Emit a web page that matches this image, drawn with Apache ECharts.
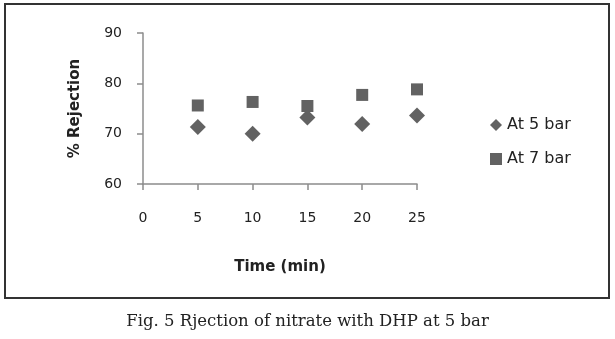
<!DOCTYPE html>
<html>
<head>
<meta charset="utf-8">
<script src="https://cdn.jsdelivr.net/npm/echarts@6/dist/echarts.min.js"></script>
<style>
html,body{margin:0;padding:0;background:#fff;}
#c{width:615px;height:339px;}
</style>
</head>
<body>
<div id="c"></div>
<script>
var timeMin = [5, 10, 15, 20, 25];
var at5bar = [71.3, 70.0, 73.2, 71.9, 73.6];
var at7bar = [75.6, 76.3, 75.5, 77.7, 78.8];
var xTicks = [0, 5, 10, 15, 20, 25];
var yTicks = [60, 70, 80, 90];

var chart = echarts.init(document.getElementById('c'), null, {renderer: 'canvas'});
var font = 'DejaVu Sans';
function pairs(xs, ys){ return xs.map(function(x,i){ return [x, ys[i]]; }); }

chart.setOption({
  animation: false,
  backgroundColor: '#fff',
  title: {
    text: 'Fig. 5 Rjection of nitrate with DHP at 5 bar',
    left: 'center',
    top: 308,
    textStyle: {fontFamily: 'DejaVu Serif', fontSize: 16.5, fontWeight: 'normal', color: '#222'}
  },
  graphic: [{
    type: 'rect',
    shape: {x: 5, y: 4, width: 604, height: 294},
    style: {fill: 'none', stroke: '#333', lineWidth: 2},
    silent: true
  }],
  grid: {left: 143, right: 198, top: 33, bottom: 155, containLabel: false},
  legend: {
    orient: 'vertical',
    left: 485,
    top: 112,
    itemGap: 18,
    itemWidth: 12,
    itemHeight: 12,
    textStyle: {fontFamily: font, fontSize: 16, color: '#222'},
    data: [{name: 'At 5 bar', icon: 'diamond'}, {name: 'At 7 bar', icon: 'rect'}]
  },
  xAxis: {
    type: 'value',
    min: xTicks[0],
    max: xTicks[xTicks.length - 1],
    interval: 5,
    name: 'Time (min)',
    nameLocation: 'middle',
    nameGap: 76,
    nameTextStyle: {fontFamily: font, fontSize: 15, fontWeight: 'bold', color: '#222'},
    axisLine: {show: true, lineStyle: {color: '#8c8c8c', width: 1.5}},
    axisTick: {show: true, length: 6, lineStyle: {color: '#8c8c8c', width: 1.5}},
    axisLabel: {margin: 27, fontFamily: font, fontSize: 14, color: '#222'},
    splitLine: {show: false}
  },
  yAxis: {
    type: 'value',
    min: yTicks[0],
    max: yTicks[yTicks.length - 1],
    interval: 10,
    name: '% Rejection',
    nameLocation: 'middle',
    nameGap: 60,
    nameTextStyle: {fontFamily: font, fontSize: 15, fontWeight: 'bold', color: '#222'},
    axisLine: {show: true, lineStyle: {color: '#8c8c8c', width: 1.5}},
    axisTick: {show: true, length: 6, lineStyle: {color: '#8c8c8c', width: 1.5}},
    axisLabel: {margin: 21, fontFamily: font, fontSize: 14, color: '#222'},
    splitLine: {show: false}
  },
  series: [{
    name: 'At 5 bar',
    type: 'scatter',
    symbol: 'diamond',
    symbolSize: 16,
    itemStyle: {color: '#626262', opacity: 1},
    data: pairs(timeMin, at5bar)
  }, {
    name: 'At 7 bar',
    type: 'scatter',
    symbol: 'rect',
    symbolSize: 12,
    itemStyle: {color: '#626262', opacity: 1},
    data: pairs(timeMin, at7bar)
  }]
});
</script>
</body>
</html>
